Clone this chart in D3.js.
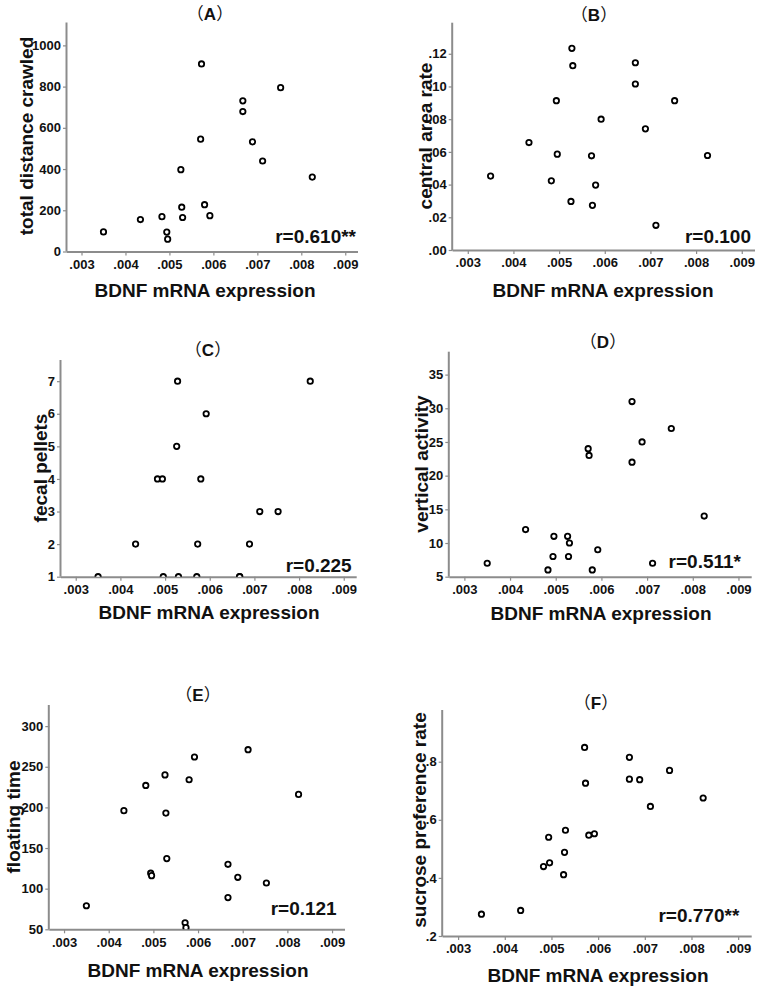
<!DOCTYPE html>
<html>
<head>
<meta charset="utf-8">
<script src="https://cdn.jsdelivr.net/npm/d3@7"></script>
<style>
  html, body { margin: 0; padding: 0; background: #fff; }
  svg { display: block; }
  text { font-family: "Liberation Sans", Arial, sans-serif; fill: #111; }
</style>
</head>
<body>
<svg id="chart" width="762" height="989"></svg>
<script>
// ---------------- data ----------------
const bdnf = [0.00350, 0.00434, 0.00483, 0.00494, 0.00496, 0.00526, 0.00528, 0.00530, 0.00571,
              0.00573, 0.00580, 0.00592, 0.00667, 0.00667, 0.00689, 0.00712, 0.00753, 0.00825];
const distanceCrawled = [95, 155, 169, 94, 60, 397, 215, 165, 545, 910, 227, 174, 731, 679, 532, 439, 795, 361];
const centralAreaRate = [0.0452, 0.0657, 0.0423, 0.0913, 0.0586, 0.0297, 0.1233, 0.1127, 0.0576,
                         0.0273, 0.0397, 0.0800, 0.1145, 0.1015, 0.0741, 0.0151, 0.0913, 0.0578];
const fecalPellets = [1, 2, 4, 4, 1, 5, 7, 1, 1, 2, 4, 6, 1, 1, 2, 3, 3, 7];
const verticalActivity = [7, 12, 6, 8, 11, 11, 8, 10, 24, 23, 6, 9, 31, 22, 25, 7, 27, 14];
const floatingTime = [79, 196, 227, 119, 116, 240, 193, 137, 58, 52, 234, 262, 130, 89, 114, 271, 107, 216];
const sucrosePref = [0.275, 0.288, 0.439, 0.540, 0.452, 0.411, 0.488, 0.564, 0.849,
                     0.726, 0.547, 0.552, 0.815, 0.740, 0.738, 0.646, 0.770, 0.675];

const xTicks = [0.003, 0.004, 0.005, 0.006, 0.007, 0.008, 0.009];
const xDomain = [0.00267, 0.00929];
const xTitle = "BDNF mRNA expression";

const panelLetters = ["A", "B", "C", "D", "E", "F"];
const yTitles = ["total distance crawled", "central area rate", "fecal pellets",
                 "vertical activity", "floating time", "sucrose preference rate"];
const rLabels = ["r=0.610**", "r=0.100", "r=0.225", "r=0.511*", "r=0.121", "r=0.770**"];
const yValues = [distanceCrawled, centralAreaRate, fecalPellets, verticalActivity, floatingTime, sucrosePref];
const yTickSets = [
  [0, 200, 400, 600, 800, 1000],
  [0, 0.02, 0.04, 0.06, 0.08, 0.10, 0.12],
  [1, 2, 3, 4, 5, 6, 7],
  [5, 10, 15, 20, 25, 30, 35],
  [50, 100, 150, 200, 250, 300],
  [0.2, 0.4, 0.6, 0.8]
];
const yDomains = [[0, 1111], [0, 0.139], [1, 7.65], [5, 38.4], [50, 326], [0.2, 0.978]];
const yDecimals = [0, 2, 0, 0, 0, 1];

// ---------------- layout ----------------
const layout = [
  {l: 67,    r: 358,   t: 22.5,  b: 251.5, title: [210, 20],  xt: [205, 297],  yt: [33, 136],   rl: [356, 243]},
  {l: 452.7, r: 755,   t: 22.7,  b: 250,   title: [594, 21],  xt: [603, 297],  yt: [432, 136],  rl: [751, 243]},
  {l: 61,    r: 356.7, t: 360,   b: 576.7, title: [208, 356], xt: [209, 619],  yt: [46.5, 468], rl: [351.7, 571.7]},
  {l: 449.3, r: 751.7, t: 351.7, b: 576.7, title: [603, 348], xt: [601, 620],  yt: [428, 464],  rl: [741, 568]},
  {l: 49.3,  r: 345,   t: 705,   b: 929.3, title: [198, 701], xt: [198, 976.7], yt: [19.5, 817], rl: [336.7, 915]},
  {l: 442.7, r: 751.7, t: 710,   b: 936,   title: [596, 709], xt: [598, 981.7], yt: [426, 820],  rl: [739.3, 921.7]}
];

const svg = d3.select("#chart");
const axisColor = "#8c8c8c";

function stripZero(s) { return s.replace(/^0\./, ".").replace(/^-0\./, "-."); }

layout.forEach((L, i) => {
  const g = svg.append("g");
  const x = d3.scaleLinear().domain(xDomain).range([L.l, L.r]);
  const y = d3.scaleLinear().domain(yDomains[i]).range([L.b, L.t]);

  const clipId = "clip" + i;
  g.append("clipPath").attr("id", clipId)
    .append("rect").attr("x", L.l).attr("y", L.t).attr("width", L.r - L.l).attr("height", L.b - L.t);

  const xAxis = d3.axisBottom(x).tickValues(xTicks)
    .tickFormat(d => stripZero(d3.format(".3f")(d))).tickSize(4).tickPadding(4);
  const gx = g.append("g").attr("transform", `translate(0,${L.b})`).call(xAxis);
  const yFmt = d3.format("." + yDecimals[i] + "f");
  const yAxis = d3.axisLeft(y).tickValues(yTickSets[i])
    .tickFormat(d => stripZero(yFmt(d))).tickSize(4).tickPadding(2);
  const gy = g.append("g").attr("transform", `translate(${L.l},0)`).call(yAxis);

  [gx, gy].forEach(a => {
    a.select(".domain").attr("stroke", axisColor).attr("stroke-width", 2);
    a.selectAll(".tick line").attr("stroke", axisColor).attr("stroke-width", 1.2);
    a.selectAll(".tick text").attr("fill", "#222")
      .style("font-size", "13px").style("font-weight", "bold")
      .style("font-family", "'Liberation Sans', Arial, sans-serif");
  });
  gy.select(".domain").attr("d", `M-0.5,${L.b}V${L.t}`);
  gx.select(".domain").attr("d", `M${L.l},0.5H${L.r}`);

  g.append("g").attr("clip-path", `url(#${clipId})`)
    .selectAll("circle").data(bdnf.map((v, k) => [v, yValues[i][k]]))
    .join("circle")
    .attr("cx", d => x(d[0])).attr("cy", d => y(d[1])).attr("r", 2.7)
    .attr("fill", "#fff").attr("stroke", "#000").attr("stroke-width", 1.8);

  const tt = g.append("text").attr("x", L.title[0]).attr("y", L.title[1]).attr("text-anchor", "middle")
    .style("font-size", "17px").style("font-weight", "bold");
  tt.append("tspan").style("font-family", "'Noto Sans CJK SC'").style("font-weight", "normal").text("（");
  tt.append("tspan").text(panelLetters[i]);
  tt.append("tspan").style("font-family", "'Noto Sans CJK SC'").style("font-weight", "normal").text("）");

  g.append("text").attr("x", L.xt[0]).attr("y", L.xt[1]).attr("text-anchor", "middle")
    .style("font-size", "19px").style("font-weight", "bold").text(xTitle);
  g.append("text").attr("transform", `translate(${L.yt[0]},${L.yt[1]}) rotate(-90)`)
    .attr("text-anchor", "middle").style("font-size", "19px").style("font-weight", "bold").text(yTitles[i]);
  g.append("text").attr("x", L.rl[0]).attr("y", L.rl[1]).attr("text-anchor", "end")
    .style("font-size", "19px").style("font-weight", "bold").text(rLabels[i]);
});
</script>
</body>
</html>
